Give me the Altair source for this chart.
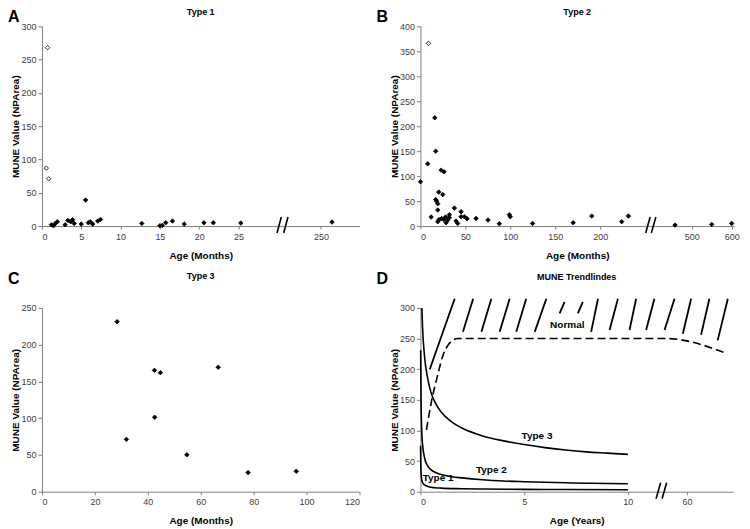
import altair as alt
import pandas as pd

FONT = "Liberation Sans"

# ---------------- Panel A : Type 1 (age in months) ----------------
a_open_age = [0.55, 0.72, 0.85]
a_open_val = [87, 268, 71]
a_age = [1.2, 1.45, 1.7, 1.95, 2.95, 3.3, 3.65, 3.9, 4.1, 5.0, 5.55, 5.9, 6.15,
         6.45, 7.1, 7.45, 12.7, 15.0, 15.3, 15.75, 16.6, 18.1, 20.6, 21.8, 25.3, 264]
a_val = [2, 0.5, 4, 6.5, 2, 8.5, 6.5, 9.5, 4, 3, 39, 5, 6.5,
         3, 7.5, 10, 4, 0.5, 1, 5, 7.5, 3, 5, 5, 4.5, 6]

# ---------------- Panel B : Type 2 (age in months) ----------------
b_open_age = [8.9]
b_open_val = [366]
b_age = [0, 8.1, 11.9, 15.9, 17, 17, 18, 19.3, 19.3, 19.3,
         20.4, 23, 24.8, 26.3, 20.7, 23.7, 25.9, 28, 30.4, 28.5,
         32.2, 32.2, 37.8, 39.6, 41.5, 45.2, 45.2, 48.9, 51.9, 61.9,
         75.2, 87.8, 98.9, 100, 124.8, 170, 190.7, 224, 231.5, 458,
         550, 600]
b_val = [88.7, 124.7, 18, 216.7, 150, 53, 50, 44.7, 32, 8.7,
         68, 112, 63, 108.7, 13, 15, 13, 18, 12, 6.7,
         22.7, 16.7, 36, 10, 5.3, 28.7, 18.7, 18.7, 14.7, 15.3,
         12, 4.7, 22.7, 18.7, 5.3, 6.7, 20, 8.7, 20, 2,
         3.3, 5.3]

# ---------------- Panel C : Type 3 (age in months) ----------------
c_age = [28.4, 31.9, 42.5, 44.75, 42.6, 54.75, 66.6, 77.9, 96.1]
c_val = [231.3, 71.2, 165.1, 161.9, 101.3, 50.2, 169.3, 26, 27.8]

# ---------------- Panel D : trend lines (age in years) ----------------
t1_age = [0.005, 0.02, 0.05, 0.1, 0.2, 0.4, 0.7, 1, 2, 3, 5, 7, 10]
t1_val = [75, 40, 22, 15, 11, 8, 6.5, 5.8, 4.8, 4.3, 3.8, 3.5, 3.2]
t2_age = [0.01, 0.03, 0.06, 0.1, 0.2, 0.35, 0.5, 0.75, 1, 1.5, 2, 3, 4, 5, 6, 7, 8, 9, 10]
t2_val = [231, 150, 100, 78, 55, 42, 36, 31, 28, 24.5, 22.5, 19.5, 17.5, 16.3, 15.3, 14.5, 13.9, 13.4, 13]
t3_age = [0.07, 0.1, 0.2, 0.35, 0.5, 0.75, 1, 1.5, 2, 3, 4, 5, 6, 7, 8, 9, 10]
t3_val = [300, 270, 220, 185, 163, 143, 130, 114, 104, 91, 83, 77, 72, 68, 65, 63, 61]
normal_age = [0.29, 0.53, 0.85, 1.09, 1.33, 1.65, 1.81, 50, 79]
normal_val = [101, 147, 193, 223, 239, 249, 250, 250, 226]
d_label_text = ["Normal", "Type 3", "Type 2", "Type 1"]
d_label_age = [7.08, 5.62, 3.42, 0.85]
d_label_val = [272, 91, 36, 22]
# hatching above the normal curve (axis units, start -> end)
hatch_x0 = [0.45, 2.05, 2.94, 3.82, 4.62, 5.51, 6.71, 7.59, 8.23, 9.12, 10.08, 10.88, 11.77, 12.65, 13.53, 14.33]
hatch_y0 = [200, 261, 261, 261, 261, 261, 291, 291, 261, 264, 264, 264, 264, 258, 256, 247]
hatch_x1 = [1.65, 2.54, 3.42, 4.30, 5.10, 6.07, 6.95, 7.83, 8.56, 9.52, 10.40, 11.28, 12.25, 13.05, 13.93, 14.82]
hatch_y1 = [315, 315, 315, 315, 315, 315, 310, 310, 315, 315, 315, 315, 315, 315, 315, 315]

# axis break markers ("//") in axis units
a_break = [29.9, 30.75]
b_break = [250.7, 257.0]
d_break = [11.36, 11.65]

# broken-axis mappings (real age -> axis position)
A_MAP = "datum.age > 100 ? 35.5 + (datum.age - 250) * 0.1 : datum.age"
B_MAP = "datum.age > 300 ? 302 + (datum.age - 500) * 0.444 : datum.age"
D_MAP = "datum.age > 20 ? 12.85 + (datum.age - 60) * 0.1 : datum.age"


def df(ages, vals, **extra):
    d = pd.DataFrame({"age": ages, "val": vals})
    for k, v in extra.items():
        d[k] = v
    return d


def make_x(domain, title, values, label_expr=None):
    if label_expr:
        ax = alt.Axis(title=title, values=values, grid=False, labelExpr=label_expr)
    else:
        ax = alt.Axis(title=title, values=values, grid=False)
    return alt.X("xd:Q", scale=alt.Scale(domain=domain, nice=False, zero=False), axis=ax)


def make_y(domain, step):
    return alt.Y("val:Q", scale=alt.Scale(domain=domain, nice=False, zero=False),
                 axis=alt.Axis(title="MUNE Value (NPArea)",
                               values=list(range(0, domain[1] + 1, step)), grid=False))


def break_layer(positions, dx, height, X):
    bd = pd.DataFrame({"xd": positions})
    return alt.Chart(bd).transform_calculate(xd2=f"datum.xd + {dx}").mark_rule(
        color="black", strokeWidth=1.6).encode(
        x=X, x2="xd2:Q", y=alt.value(height + 7), y2=alt.value(height - 9))


def letter_layer(letter, dx, dy):
    return alt.Chart(pd.DataFrame({"t": [letter]})).mark_text(
        align="left", baseline="top", fontSize=16, fontWeight="bold", font=FONT, color="black").encode(
        text="t:N", x=alt.value(dx), y=alt.value(dy))


def title_layer(text, width, dy):
    return alt.Chart(pd.DataFrame({"t": [text]})).mark_text(
        align="center", baseline="middle", fontSize=9, fontWeight="bold", font=FONT, color="black").encode(
        text="t:N", x=alt.value(width / 2), y=alt.value(dy))


def scatter(data, xmap, X, Y, filled=True):
    return alt.Chart(data).transform_calculate(xd=xmap).mark_point(
        shape="diamond", size=20, filled=filled, fill="black" if filled else "white",
        stroke="black", strokeWidth=0.8, opacity=1).encode(x=X, y=Y)


# ---- A ----
WA, HA = 318, 200
XA = make_x([0, 40.4], "Age (Months)", [0, 5, 10, 15, 20, 25, 35.5],
            "datum.value > 30 ? '250' : datum.label")
YA = make_y([0, 300], 50)
chartA = alt.layer(
    scatter(df(a_age, a_val), A_MAP, XA, YA),
    scatter(df(a_open_age, a_open_val), A_MAP, XA, YA, filled=False),
    break_layer(a_break, 0.55, HA, XA),
    letter_layer("A", -34, -17),
    title_layer("Type 1", WA, -14),
).properties(width=WA, height=HA)

# ---- B ----
WB, HB = 314, 200
XB = make_x([0, 349], "Age (Months)", [0, 50, 100, 150, 200, 302, 346.4],
            "datum.value > 300 ? (datum.value > 340 ? '600' : '500') : datum.label")
YB = make_y([0, 400], 50)
chartB = alt.layer(
    scatter(df(b_age, b_val), B_MAP, XB, YB),
    scatter(df(b_open_age, b_open_val), B_MAP, XB, YB, filled=False),
    break_layer(b_break, 5.0, HB, XB),
    letter_layer("B", -44, -17),
    title_layer("Type 2", WB, -14),
).properties(width=WB, height=HB)

# ---- C ----
WC, HC = 318, 184
XC = alt.X("xd:Q", scale=alt.Scale(domain=[0, 120], nice=False),
           axis=alt.Axis(title="Age (Months)", values=list(range(0, 121, 20)), grid=False))
YC = make_y([0, 250], 50)
chartC = alt.layer(
    scatter(df(c_age, c_val), "datum.age", XC, YC),
    letter_layer("C", -34, -37),
    title_layer("Type 3", WC, -32),
).properties(width=WC, height=HC)

# ---- D ----
WD, HD = 313, 184
XD = make_x([0, 15.07], "Age (Years)", [0, 5, 10, 12.85],
            "datum.value > 11 ? '60' : datum.label")
YD = make_y([0, 300], 50)

curves = pd.concat([
    df(t1_age, t1_val, s="Type 1"),
    df(t2_age, t2_val, s="Type 2"),
    df(t3_age, t3_val, s="Type 3"),
])
curve_layer = alt.Chart(curves).transform_calculate(xd=D_MAP).mark_line(
    color="black", strokeWidth=1.6, interpolate="monotone").encode(
    x=XD, y=YD, detail="s:N", order="age:Q")
normal_layer = alt.Chart(df(normal_age, normal_val)).transform_calculate(xd=D_MAP).mark_line(
    color="black", strokeWidth=1.6, strokeDash=[8, 4], interpolate="monotone").encode(
    x=XD, y=YD, order="age:Q")
hatch_layer = alt.Chart(pd.DataFrame({"xd": hatch_x0, "val": hatch_y0,
                                      "x1": hatch_x1, "y1": hatch_y1})).mark_rule(
    color="black", strokeWidth=1.8).encode(x=XD, y=YD, x2="x1:Q", y2="y1:Q")
dlabels = alt.Chart(pd.DataFrame({"age": d_label_age, "val": d_label_val,
                                  "t": d_label_text})).transform_calculate(
    xd=D_MAP).mark_text(fontSize=10, fontWeight="bold", font=FONT, color="black").encode(
    x=XD, y=YD, text="t:N")

chartD = alt.layer(
    hatch_layer, normal_layer, curve_layer, dlabels,
    break_layer(d_break, 0.22, HD, XD),
    letter_layer("D", -44, -37),
    title_layer("MUNE Trendlindes", WD, -31),
).properties(width=WD, height=HD)

chart = alt.concat(chartA, chartB, chartC, chartD, columns=2,
                   spacing={"row": 82, "column": 61}, bounds="flush").properties(
    padding={"left": 0, "top": 0, "right": 2, "bottom": 4}
).configure_view(stroke=None).configure_axis(
    domainColor="#808080", tickColor="#808080", labelColor="#404040",
    labelFont=FONT, labelFontSize=9, titleFont=FONT, titleFontSize=10,
    titleFontWeight="bold", titleColor="black", grid=False
).configure_axisX(tickSize=3, labelPadding=3, titlePadding=9).configure_axisY(
    tickSize=4, labelPadding=2, titlePadding=0)

chart.save("out.html", embed_options={"renderer": "svg", "actions": False})
